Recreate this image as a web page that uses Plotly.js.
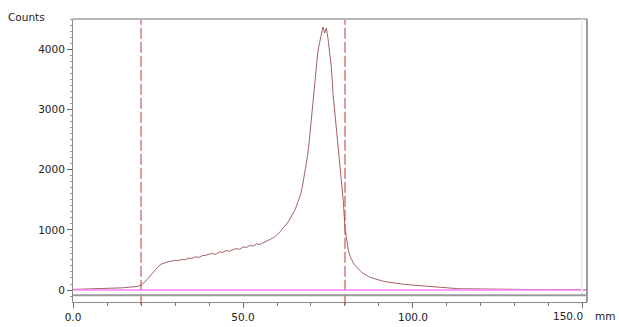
<!DOCTYPE html>
<html>
<head>
<meta charset="utf-8">
<script src="https://cdn.plot.ly/plotly-3.0.1.min.js"></script>
<style>
html,body{margin:0;padding:0;background:#fff;}
#chart{width:619px;height:327px;}
</style>
</head>
<body>
<div id="chart"></div>
<script>
const positionMm = [
 0,1,2,3,4,5,6,7,8,9,10,11,12,13,14,15,16,17,18,19,
 20,21,22,23,24,25,26,27,28,29,30,31,32,33,34,35,36,37,38,39,
 40,41,42,43,44,45,46,47,48,49,50,51,52,53,54,55,56,57,58,59,
 59.5,60,60.5,61,61.5,62,62.5,63,63.5,64,64.5,65,65.5,66,66.5,67,67.5,68,68.5,69,69.5,
 70,70.5,71,71.5,72,72.5,73,73.5,74,74.5,75,75.5,76,76.5,77,77.5,78,78.5,79,79.5,
 80,80.5,81,81.5,82,82.5,83,83.5,84,84.5,85,
 86,87,88,89,90,91,92,93,94,95,96,97,98,99,100,101,102,103,104,105,106,107,108,109,110,
 111,112,113,114,115,116,117,118,119,120,
 121,122,123,124,125,126,127,128,129,130,131,132,133,134,135,136,137,138,139,140,
 141,142,143,144,145,146,147,148,149,150,151
];
const counts = [
 10,11,13,12,15,17,16,19,21,22,25,27,29,32,35,39,43,48,54,60,
 78,125,185,255,325,385,430,455,470,478,495,488,510,502,530,525,552,540,570,575,
 598,605,592,632,625,655,645,668,688,676,715,708,738,730,765,758,785,805,835,870,
 890,915,945,975,1010,1040,1075,1110,1150,1195,1245,1300,1360,1430,1500,1600,1730,1880,2040,2230,2480,
 2800,3060,3450,3750,3950,4100,4250,4370,4270,4350,4180,3950,3700,3250,2950,2600,2320,2040,1720,1480,
 1020,820,660,560,490,445,410,375,345,315,290,
 252,222,200,180,162,150,138,128,119,112,104,97,91,86,80,74,68,62,56,51,46,41,37,33,29,
 27,25,23,21,20,18,17,16,15,13,
 12,12,11,11,10,10,10,9,9,9,8,8,8,8,7,7,7,7,6,6,
 6,6,6,5,5,5,5,5,5,5,5
];
const markerLinesMm = [20, 80];
const xTickVals = [0, 50, 100, 150];
const xTickText = ["0.0", "50.0", "100.0", "150.0"];
const yTickVals = [0, 1000, 2000, 3000, 4000];
const yTickText = ["0", "1000", "2000", "3000", "4000"];

const font = {family: "DejaVu Sans, Verdana, sans-serif", size: 10.5, color: "#222"};

const shapes = [];
markerLinesMm.forEach(function (m) {
  shapes.push({type: "line", xref: "x", yref: "paper", x0: m, x1: m, y0: -0.01, y1: 1,
    line: {color: "#c03a3a", width: 1, dash: "11px,3px"}});
});
// zero baseline
shapes.push({type: "line", xref: "paper", yref: "y", x0: 0, x1: 1, y0: 0, y1: 0,
  line: {color: "#ff80ff", width: 1.5}});
// frame: top
shapes.push({type: "line", xref: "paper", yref: "paper", x0: 0, x1: 1, y0: 1, y1: 1,
  line: {color: "#b8b8b8", width: 2}});
// frame: right
shapes.push({type: "line", xref: "paper", yref: "paper", x0: 1, x1: 1, y0: 0, y1: 1,
  line: {color: "#7a7a7a", width: 1.5}});
shapes.push({type: "line", xref: "x", yref: "paper", x0: 149.7, x1: 149.7, y0: 0.02, y1: 1,
  line: {color: "#ececec", width: 2}});
// frame: bottom of plot area
shapes.push({type: "line", xref: "paper", yref: "y", x0: 0, x1: 1, y0: -85, y1: -85,
  line: {color: "#9a9a9a", width: 2}});

const data = [{
  x: positionMm, y: counts, type: "scatter", mode: "lines",
  line: {color: "rgba(150,70,70,0.85)", width: 1},
  hoverinfo: "skip"
}];

const lastIdx = xTickText.length - 1;
const shownTickText = xTickText.map(function (t, i) { return i === lastIdx ? "" : t; });

const layout = {
  width: 619, height: 327,
  margin: {l: 73, r: 32, t: 19, b: 25, pad: 0},
  paper_bgcolor: "#fff", plot_bgcolor: "#fff",
  showlegend: false,
  font: font,
  xaxis: {
    range: [0, 151.18], showgrid: false, zeroline: false,
    showline: true, linecolor: "#8a8a8a", linewidth: 1,
    ticks: "outside", ticklen: 5, tickcolor: "#666", tickwidth: 1,
    tickvals: xTickVals, ticktext: shownTickText, tickfont: font,
    minor: {dtick: 10, tick0: 0, ticks: "outside", ticklen: 3, tickcolor: "#777", showgrid: false}
  },
  yaxis: {
    range: [-199, 4502], showgrid: false, zeroline: false,
    showline: true, linecolor: "#8a8a8a", linewidth: 1,
    ticks: "outside", ticklen: 5, tickcolor: "#666", tickwidth: 1,
    tickvals: yTickVals, ticktext: yTickText, tickfont: font,
    minor: {dtick: 100, tick0: 0, ticks: "outside", ticklen: 2, tickcolor: "#999", showgrid: false}
  },
  shapes: shapes,
  annotations: [
    {text: "Counts", xref: "paper", yref: "paper", x: -0.13, y: 1.0, xanchor: "left", yanchor: "bottom",
      yshift: -6, showarrow: false, font: font},
    {text: xTickText[lastIdx], xref: "x", yref: "paper", x: xTickVals[lastIdx], y: 0, xanchor: "right", yanchor: "top",
      xshift: 2, yshift: -6, showarrow: false, font: font},
    {text: "mm", xref: "paper", yref: "paper", x: 1.012, y: 0, xanchor: "left", yanchor: "top",
      yshift: -6, showarrow: false, font: font}
  ]
};

Plotly.newPlot("chart", data, layout, {displayModeBar: false, staticPlot: true});
</script>
</body>
</html>
